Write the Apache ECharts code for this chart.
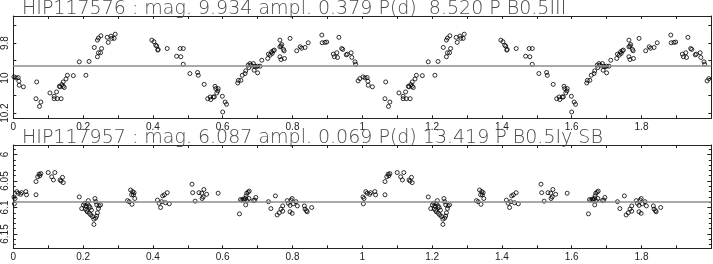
<!DOCTYPE html>
<html><head><meta charset="utf-8">
<script src="https://cdn.jsdelivr.net/npm/echarts@6/dist/echarts.min.js"></script>
<style>html,body{margin:0;padding:0;background:#fff}#c{width:713px;height:264px}</style>
</head><body><div id="c"></div>
<script>
// ---------- text ----------
const titleA = 'HIP117576 : mag. 9.934 ampl. 0.379 P(d)  8.520 P B0.5III';
const titleB = 'HIP117957 : mag. 6.087 ampl. 0.069 P(d) 13.419 P B0.5Iy SB';
const meanA = 9.934;
const meanB = 6.087;

// ---------- HIP117576 phased light curve (phase 0..1) ----------
const phaseA = [
  0.002,0.008,0.014,0.016,0.017,0.029,
  0.067,0.065,0.079,0.075,
  0.105,0.117,0.117,0.124,0.126,0.137,
  0.132,0.134,0.139,0.143,0.146,
  0.143,0.151,0.155,0.172,0.208,0.189,0.217,0.232,
  0.241,0.244,0.250,0.253,
  0.241,0.244,0.251,
  0.269,0.272,0.280,0.282,0.289,0.292,
  0.397,0.403,0.408,0.411,0.415,0.414,
  0.441,0.468,0.478,0.480,0.487,0.487,
  0.506,0.528,0.530,0.547,
  0.557,0.564,0.566,0.573,0.576,
  0.578,0.580,0.586,0.587,0.583,
  0.599,0.607,0.611,0.600,
  0.643,0.645,0.652,0.656,0.664,0.666,
  0.673,0.675,0.678,0.681,0.688,0.691,0.690,0.695,0.700,0.700,0.707,
  0.712,0.729,0.731,0.736,0.740,0.745,0.742,0.748,
  0.764,0.767,0.777,0.764,0.767,0.769,0.774,0.776,0.764,
  0.793,
  0.812,0.822,0.826,0.836,0.845,
  0.884,0.885,0.893,0.898,
  0.917,0.920,0.927,0.929,
  0.933,0.941,0.944,0.954,0.957,0.968,0.970,0.979,0.981,0.988,0.993
];
const magA = [
  9.993,9.999,9.997,10.018,10.041,10.050,
  10.022,10.118,10.137,10.162,
  10.085,10.104,10.118,10.079,10.118,10.118,
  10.047,10.050,10.037,10.047,10.054,
  10.022,10.005,9.984,9.986,9.984,9.907,9.905,9.825,
  9.878,9.855,9.855,9.831,
  9.783,9.771,9.758,
  9.767,9.796,9.760,9.773,9.773,9.749,
  9.783,9.792,9.812,9.817,9.836,9.840,
  9.831,9.875,9.831,9.878,9.831,9.921,
  9.974,9.968,9.984,10.036,
  10.118,10.108,10.123,10.108,10.108,
  10.047,10.060,10.073,10.060,10.085,
  10.104,10.137,10.150,10.194,
  10.028,10.013,10.013,9.984,9.974,9.959,
  9.926,9.940,9.917,9.926,9.917,9.932,9.955,9.936,9.970,9.932,9.932,
  9.898,9.888,9.863,9.869,9.850,9.844,9.859,9.840,
  9.878,9.894,9.888,9.821,9.817,9.808,9.836,9.844,9.783,
  9.773,
  9.844,9.821,9.829,9.825,9.798,
  9.754,9.798,9.796,9.794,
  9.863,9.878,9.855,9.882,
  9.767,9.831,9.836,9.867,9.863,9.855,9.882,9.907,9.921,10.016,10.003
];

// ---------- HIP117957 phased light curve (phase 0..1) ----------
const phaseB = [
  0.002,0.005,0.003,0.010,0.014,0.021,0.024,0.036,0.038,
  0.065,0.065,0.070,0.074,0.076,0.079,
  0.100,0.110,0.115,0.119,0.134,0.137,0.141,0.143,
  0.189,
  0.196,0.201,0.205,0.208,0.212,0.215,0.217,0.210,0.206,0.212,0.218,0.222,0.227,
  0.231,0.231,0.236,0.239,0.241,0.244,0.246,0.250,0.234,0.236,0.239,0.224,0.220,
  0.327,0.332,0.340,0.336,0.339,0.342,0.346,0.348,0.344,
  0.413,0.418,0.422,0.425,0.428,0.433,0.436,0.441,0.447,
  0.512,0.514,0.521,0.532,0.540,0.544,0.546,0.541,0.554,0.587,
  0.648,0.651,0.655,0.659,0.662,0.665,0.667,0.669,0.673,0.676,0.666,0.670,0.675,
  0.688,0.692,0.695,
  0.731,0.738,0.751,0.756,0.762,0.767,0.772,0.772,0.785,0.788,0.793,0.796,0.799,
  0.802,0.793,0.799,0.810,0.814,
  0.834,0.836,0.840,0.842,0.855
];
const magB = [
  6.080,6.083,6.093,6.070,6.073,6.075,6.072,6.070,6.076,
  6.076,6.051,6.042,6.037,6.040,6.036,
  6.034,6.042,6.048,6.034,6.048,6.050,6.043,6.053,
  6.080,
  6.102,6.095,6.092,6.097,6.093,6.087,6.097,6.105,6.103,6.108,6.111,6.114,6.117,
  6.122,6.132,6.120,6.116,6.110,6.102,6.097,6.095,6.083,6.089,6.095,6.105,6.100,
  6.087,6.089,6.094,6.067,6.076,6.070,6.072,6.083,6.076,
  6.086,6.092,6.100,6.089,6.078,6.076,6.091,6.072,6.093,
  6.056,6.072,6.088,6.072,6.073,6.080,6.066,6.083,6.075,6.073,
  6.112,6.085,6.086,6.084,6.086,6.083,6.078,6.073,6.071,6.069,6.095,6.087,6.083,
  6.087,6.086,6.081,
  6.089,6.102,6.078,6.114,6.110,6.103,6.097,6.107,6.087,6.092,6.096,6.086,6.083,
  6.093,6.108,6.111,6.089,6.097,
  6.097,6.103,6.106,6.108,6.100
];

// two cycles of phase, as plotted in the original
function cycles(ph, mag) {
  const out = [];
  for (let c = 0; c < 2; c++) for (let i = 0; i < ph.length; i++) out.push([ph[i] + c, mag[i]]);
  return out;
}

const INK = '#222';
const LABEL = { fontFamily: 'Liberation Sans', fontSize: 10, color: '#222' };

function xAx(grid, pos, labels) {
  return {
    type: 'value', gridIndex: grid, position: pos, min: 0, max: 2, interval: 0.1,
    axisLine: { show: true, onZero: false, lineStyle: { color: INK, width: 1 } },
    axisTick: { show: true, inside: true, length: 3, lineStyle: { color: INK, width: 1 } },
    splitLine: { show: false },
    axisLabel: Object.assign({
      show: labels, margin: 4, showMinLabel: true, showMaxLabel: false,
      formatter: v => { const k = Math.round(v * 10); return (k % 2) ? '' : String(k / 10); }
    }, LABEL)
  };
}
function yAx(grid, pos, min, max, step, labels, tickLen, lineShow, fmt) {
  return {
    type: 'value', gridIndex: grid, position: pos, inverse: true, min: min, max: max,
    minInterval: step, maxInterval: step, splitNumber: 5,
    axisLine: { show: lineShow, onZero: false, lineStyle: { color: INK, width: 1 } },
    axisTick: { show: true, inside: true, length: tickLen, lineStyle: { color: INK, width: 1 } },
    splitLine: { show: false },
    axisLabel: Object.assign({
      show: labels, rotate: 90, margin: 3, showMinLabel: false, showMaxLabel: false, formatter: fmt
    }, LABEL)
  };
}
const fmtA = v => { const k = Math.round(v * 10); return (k % 2) ? '' : String(k / 10); };
const fmtB = v => String(Math.round(v * 100) / 100);

function scatter(xi, yi, data, mean) {
  return {
    type: 'scatter', xAxisIndex: xi, yAxisIndex: yi, data: data,
    symbol: 'circle', symbolSize: 4, silent: true,
    itemStyle: { color: 'rgba(255,255,255,0)', borderColor: '#000', borderWidth: 1 },
    emphasis: { disabled: true },
    markLine: {
      silent: true, symbol: ['none', 'none'], animation: false,
      label: { show: false },
      lineStyle: { color: '#8c8c8c', width: 1.5, type: 'solid' },
      data: [{ yAxis: mean }]
    }
  };
}

const TITLE = { fontFamily: 'DejaVu Sans', fontSize: 19, fontWeight: 200, color: '#4a4a4a', lineHeight: 19 };

const chart = echarts.init(document.getElementById('c'), null, { renderer: 'canvas' });
chart.setOption({
  animation: false,
  backgroundColor: '#fff',
  title: [
    { text: titleA, left: 22, top: 0, padding: 0, textStyle: TITLE },
    { text: titleB, left: 22, top: 129, padding: 0, textStyle: TITLE }
  ],
  grid: [
    { left: 13.3, right: 1.7, top: 16, height: 102.3, outerBoundsMode: 'none', containLabel: false },
    { left: 13.3, right: 1.7, top: 145, height: 103.3, outerBoundsMode: 'none', containLabel: false }
  ],
  xAxis: [
    xAx(0, 'bottom', true), xAx(0, 'top', false),
    xAx(1, 'bottom', true), xAx(1, 'top', false)
  ],
  yAxis: [
    yAx(0, 'left', 9.645, 10.23, 0.1, true, 3, true, fmtA),
    yAx(0, 'right', 9.645, 10.23, 0.1, false, 3, true, fmtA),
    yAx(1, 'left', 5.982, 6.177, 0.05, true, 4, true, fmtB),
    yAx(1, 'left', 5.982, 6.177, 0.01, false, 2.5, false, fmtB),
    yAx(1, 'right', 5.982, 6.177, 0.05, false, 4, true, fmtB),
    yAx(1, 'right', 5.982, 6.177, 0.01, false, 2.5, false, fmtB)
  ],
  series: [
    scatter(0, 0, cycles(phaseA, magA), meanA),
    scatter(2, 2, cycles(phaseB, magB), meanB)
  ]
});
</script>
</body></html>
